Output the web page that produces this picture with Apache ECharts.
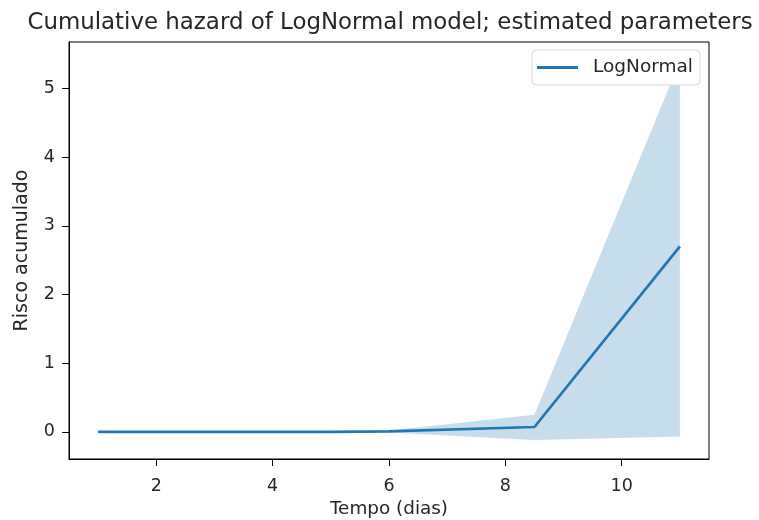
<!DOCTYPE html>
<html><head><meta charset="utf-8">
<script src="https://cdn.jsdelivr.net/npm/echarts@6/dist/echarts.min.js"></script>
<style>html,body{margin:0;padding:0;background:#fff}#c{width:759px;height:520px}</style>
</head><body><div id="c"></div>
<script>
const times  = [1, 2, 3, 4, 5, 6, 8.5, 11];
const hazard = [0.0, 0.0, 0.0, 0.0, 0.0, 0.005, 0.07, 2.70];
const lower  = [0.0, 0.0, 0.0, 0.0, 0.0, -0.01, -0.12, -0.07];
const upper  = [0.0, 0.0, 0.0, 0.0, 0.0, 0.02, 0.25, 5.40];
const xTicks = [2, 4, 6, 8, 10];
const yTicks = [0, 1, 2, 3, 4, 5];

const font = 'DejaVu Sans';
const chart = echarts.init(document.getElementById('c'), null, {renderer: 'canvas'});
const axisLine = {show: true, onZero: false, lineStyle: {color: '#000', width: 1}};
chart.setOption({
  animation: false,
  title: {text: 'Cumulative hazard of LogNormal model; estimated parameters', left: 385, textAlign: 'center', top: 7,
    textStyle: {fontFamily: font, fontSize: 22.9, fontWeight: 'normal', color: '#262626'}},
  grid: {left: 69, right: 50, top: 42, bottom: 61, show: true, borderColor: '#000', borderWidth: 1,
    containLabel: false, outerBoundsMode: 'none'},
  legend: {right: 59, top: 50, data: [{name: 'LogNormal', icon: 'rect'}], itemWidth: 41, itemHeight: 3,
    backgroundColor: '#fff', borderColor: '#d9d9d9', borderWidth: 1, borderRadius: 4, padding: [8, 7, 8, 5],
    textStyle: {fontFamily: font, fontSize: 18.5, color: '#262626', padding: [0, 0, 0, 10]}},
  xAxis: {
    type: 'value', min: 0.5, max: 11.5, axisLine: axisLine, splitLine: {show: false},
    name: 'Tempo (dias)', nameLocation: 'middle', nameGap: 41,
    nameTextStyle: {color: '#262626', fontFamily: font, fontSize: 18.4},
    axisTick: {show: true, length: 7, customValues: xTicks, lineStyle: {color: '#000'}},
    axisLabel: {customValues: xTicks, margin: 18, color: '#262626', fontFamily: font, fontSize: 17.5}
  },
  yAxis: {
    type: 'value', min: -0.396, max: 5.676, axisLine: axisLine, splitLine: {show: false},
    name: 'Risco acumulado', nameLocation: 'middle', nameGap: 37,
    nameTextStyle: {color: '#262626', fontFamily: font, fontSize: 19},
    axisTick: {show: true, length: 7, customValues: yTicks, lineStyle: {color: '#000'}},
    axisLabel: {customValues: yTicks, margin: 14, color: '#262626', fontFamily: font, fontSize: 17.5}
  },
  series: [
    {name: 'band', type: 'custom', silent: true, z: 1,
      data: times.map((t, i) => [t, lower[i], upper[i]]),
      encode: {x: 0, y: [1, 2]},
      renderItem: function (params, api) {
        if (params.dataIndex !== 0) return null;
        const pts = [];
        for (let i = 0; i < times.length; i++) pts.push(api.coord([times[i], upper[i]]));
        for (let i = times.length - 1; i >= 0; i--) pts.push(api.coord([times[i], lower[i]]));
        return {type: 'polygon', shape: {points: pts}, style: {fill: 'rgba(31,119,180,0.25)', stroke: null}};
      }},
    {name: 'LogNormal', type: 'line', symbol: 'none', color: '#1f77b4',
      lineStyle: {color: '#1f77b4', width: 2.7}, data: times.map((t, i) => [t, hazard[i]]), z: 3}
  ]
});
</script></body></html>
